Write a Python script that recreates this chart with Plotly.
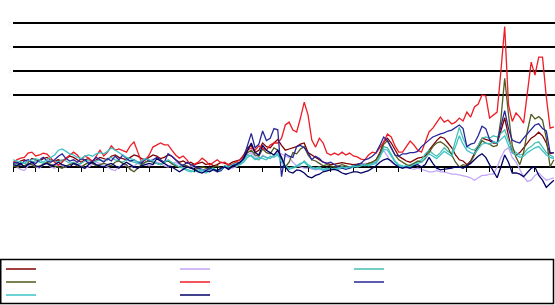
import plotly.graph_objects as go

# ---- data (144 monthly points) ----
periods = list(range(144))
tick_positions = list(range(0, 144, 6))
grid_values = [3, 4, 5, 6]

maroon = [0.2, 0.15, 0.25, 0.3, 0.2, 0.35, 0.3, 0.25, 0.35, 0.4, 0.3, 0.25,
          0.3, 0.25, 0.35, 0.45, 0.4, 0.3, 0.2, 0.3, 0.35, 0.25, 0.3, 0.4,
          0.35, 0.3, 0.45, 0.5, 0.4, 0.35, 0.3, 0.4, 0.5, 0.45, 0.35, 0.3,
          0.4, 0.5, 0.45, 0.35, 0.4, 0.5, 0.45, 0.3, 0.2, 0.25, 0.15, 0.2,
          0.1, 0.15, 0.2, 0.1, 0.15, 0.05, 0.1, 0.2, 0.15, 0.1, 0.2, 0.25,
          0.3, 0.5, 0.8, 0.9, 0.6, 0.7, 1.0, 0.85, 0.8, 1.0, 1.15, 0.9,
          0.7, 0.75, 0.8, 0.85, 0.95, 1.0, 0.6, 0.5, 0.4, 0.3, 0.2, 0.15,
          0.1, 0.12, 0.15, 0.18, 0.15, 0.12, 0.1, 0.12, 0.15, 0.1, 0.15, 0.2,
          0.3, 0.6, 1.05, 1.2, 1.0, 0.7, 0.45, 0.35, 0.25, 0.2, 0.3, 0.37,
          0.4, 0.45, 0.7, 0.9, 1.1, 1.25, 1.2, 1.0, 0.8, 0.5, 0.3, 0.25,
          0.1, 0.25, 0.55, 0.9, 1.2, 1.15, 1.1, 1.0, 1.0, 1.5, 2.05, 1.3,
          0.6, 0.5, 0.6, 0.8, 1.0, 1.2, 1.3, 1.45, 1.3, 1.0, 0.55, 0.6]

lavender = [0.2, 0.0, -0.1, -0.15, 0.05, 0.1, 0.0, -0.05, 0.1, 0.15, 0.0, -0.05,
            0.1, 0.05, 0.0, 0.1, 0.15, 0.2, 0.05, -0.05, 0.0, 0.1, 0.2, 0.15,
            0.05, 0.0, -0.1, -0.15, 0.0, 0.1, 0.05, -0.05, 0.05, 0.15, 0.2, 0.1,
            0.05, 0.1, 0.2, 0.15, 0.05, 0.0, 0.1, 0.2, 0.1, -0.05, 0.0, 0.05,
            -0.05, -0.1, -0.15, -0.1, -0.05, -0.15, -0.2, -0.1, 0.0, -0.1, -0.05, 0.0,
            0.1, 0.25, 0.5, 0.6, 0.45, 0.3, 0.5, 0.4, 0.35, 0.5, 0.6, 0.55,
            0.45, 0.4, 0.2, 0.05, 0.0, -0.05, -0.05, -0.1, -0.12, -0.1, -0.12, -0.1,
            -0.12, -0.08, -0.05, 0.0, -0.05, 0.0, 0.05, 0.05, 0.1, 0.15, 0.15, 0.2,
            0.25, 0.5, 0.7, 0.45, 0.2, 0.1, 0.05, 0.0, -0.05, -0.05, -0.1, -0.05,
            -0.1, -0.15, -0.2, -0.2, -0.15, -0.2, -0.2, -0.25, -0.3, -0.3, -0.33, -0.35,
            -0.4, -0.45, -0.55, -0.45, -0.35, -0.35, -0.3, -0.3, 0.0, 0.4, 0.7, 0.8,
            0.4, 0.2, -0.1, -0.4, -0.6, -0.55, -0.35, -0.25, -0.4, -0.55, -0.5, -0.45]

turquoise = [0.15, 0.1, 0.2, 0.15, 0.1, 0.2, 0.25, 0.2, 0.15, 0.2, 0.3, 0.25,
             0.2, 0.3, 0.25, 0.15, 0.2, 0.1, 0.15, 0.25, 0.3, 0.2, 0.25, 0.3,
             0.25, 0.35, 0.4, 0.3, 0.25, 0.2, 0.3, 0.25, 0.2, 0.15, 0.1, 0.2,
             0.25, 0.2, 0.15, 0.1, 0.2, 0.25, 0.15, 0.05, 0.0, -0.05, -0.1, -0.15,
             -0.2, -0.1, -0.2, -0.25, -0.15, -0.1, -0.2, -0.1, 0.0, 0.05, 0.1, 0.05,
             0.1, 0.2, 0.4, 0.5, 0.35, 0.3, 0.45, 0.4, 0.35, 0.5, 0.55, 0.3,
             0.0, -0.1, -0.05, 0.0, 0.1, 0.25, 0.1, 0.0, -0.05, 0.0, -0.1, -0.05,
             -0.1, -0.05, -0.1, -0.05, 0.0, -0.05, 0.0, 0.05, 0.1, 0.05, 0.1, 0.15,
             0.2, 0.5, 0.85, 0.8, 0.5, 0.25, 0.1, 0.05, 0.0, 0.1, 0.15, 0.2,
             0.3, 0.55, 0.7, 0.55, 0.45, 0.6, 0.8, 0.65, 0.55, 1.1, 1.65, 1.2,
             0.85, 0.75, 0.7, 0.9, 1.2, 1.25, 1.2, 1.3, 1.25, 1.4, 1.55, 1.1,
             0.75, 0.6, 0.5, 0.55, 0.75, 0.85, 1.0, 1.05, 0.8, 0.6, 0.5, 0.4]

olive = [0.05, 0.0, 0.1, 0.05, 0.15, 0.1, 0.0, 0.05, 0.1, 0.2, 0.1, 0.05,
         0.0, -0.05, 0.05, 0.1, 0.15, 0.05, 0.0, 0.1, 0.2, 0.15, 0.05, 0.1,
         0.15, 0.1, 0.05, 0.2, 0.25, 0.15, 0.1, -0.1, -0.2, -0.05, 0.1, 0.2,
         0.25, 0.2, 0.15, 0.1, 0.2, 0.25, 0.15, 0.05, 0.0, 0.1, 0.05, -0.05,
         -0.1, -0.05, 0.0, -0.05, -0.1, 0.0, 0.05, -0.05, 0.0, 0.05, 0.1, 0.15,
         0.2, 0.35, 0.6, 0.7, 0.5, 0.45, 0.75, 0.6, 0.55, 0.8, 0.7, 0.4,
         0.0, 0.2, 0.6, 0.55, 0.75, 0.85, 0.5, 0.3, 0.25, 0.15, 0.05, 0.1,
         0.05, 0.0, 0.05, 0.1, 0.05, 0.0, 0.05, 0.1, 0.05, 0.1, 0.15, 0.2,
         0.3, 0.55, 0.95, 1.1, 0.8, 0.5, 0.3, 0.2, 0.1, 0.05, 0.15, 0.25,
         0.2, 0.35, 0.6, 0.85, 1.0, 1.05, 0.95, 0.8, 0.5, 0.2, 0.0, 0.1,
         0.05, 0.2, 0.5, 0.8, 1.1, 1.0, 0.95, 0.85, 0.9, 2.0, 3.7, 2.2,
         0.9, 0.4, 0.1, 0.6, 1.5, 2.2, 2.0, 2.1, 1.95, 1.2, 0.0, 0.3]

red = [0.17, 0.3, 0.37, 0.4, 0.58, 0.62, 0.46, 0.5, 0.58, 0.54, 0.37, 0.2,
       0.08, 0.2, 0.37, 0.5, 0.62, 0.5, 0.3, 0.46, 0.37, 0.2, 0.46, 0.7,
       0.46, 0.62, 0.88, 0.7, 0.75, 0.7, 0.62, 0.88, 1.04, 0.62, 0.2, 0.3,
       0.5, 0.83, 0.92, 1.0, 0.92, 0.92, 0.7, 0.5, 0.37, 0.46, 0.3, 0.08,
       0.12, 0.2, 0.37, 0.25, 0.08, 0.2, 0.3, 0.17, 0.2, 0.08, 0.12, 0.2,
       0.3, 0.46, 0.7, 0.79, 0.7, 0.88, 0.79, 0.7, 0.92, 1.0, 1.0, 1.2,
       1.75, 1.87, 1.54, 1.46, 2.04, 2.7, 2.17, 1.12, 0.83, 1.2, 1.0, 0.58,
       0.5, 0.58, 0.5, 0.62, 0.5, 0.58, 0.46, 0.42, 0.33, 0.3, 0.5, 0.62,
       0.58, 0.79, 1.04, 1.37, 1.25, 0.88, 0.62, 0.62, 0.88, 1.08, 0.92, 0.7,
       0.62, 1.0, 1.46, 1.62, 1.87, 2.08, 1.87, 1.96, 1.79, 1.87, 2.04, 1.92,
       2.29, 2.08, 2.5, 2.62, 3.0, 2.96, 2.04, 2.17, 2.29, 4.0, 5.85, 2.6,
       1.9, 2.25, 2.08, 1.83, 3.0, 4.37, 3.83, 4.58, 4.58, 2.92, 1.62, 1.67]

blue = [0.15, 0.2, 0.1, 0.25, 0.3, 0.2, 0.15, 0.3, 0.4, 0.25, 0.2, 0.3,
        0.45, 0.55, 0.35, 0.25, 0.3, 0.2, 0.35, 0.3, 0.15, 0.25, 0.4, 0.3,
        0.2, 0.35, 0.25, 0.45, 0.3, 0.5, 0.35, 0.25, 0.3, 0.2, 0.15, 0.35,
        0.25, 0.3, 0.4, 0.3, 0.2, 0.55, 0.45, 0.3, 0.15, 0.05, 0.2, 0.1,
        0.05, -0.05, -0.1, -0.15, -0.05, -0.1, -0.2, -0.15, 0.05, -0.1, 0.05, 0.1,
        0.15, 0.4, 0.9, 1.4, 0.8, 0.95, 1.5, 1.1, 1.2, 1.6, 1.55, -0.4,
        0.55, 0.45, 0.4, 0.85, 0.9, 0.8, 0.6, 0.3, 0.45, 0.35, 0.2, 0.15,
        0.2, 0.1, 0.0, -0.05, -0.1, -0.05, 0.05, 0.1, 0.15, 0.3, 0.35, 0.45,
        0.6, 0.9, 1.25, 1.1, 0.8, 0.5, 0.45, 0.55, 0.55, 0.6, 0.6, 0.65,
        0.85, 1.0, 1.12, 1.25, 1.33, 1.38, 1.42, 1.5, 1.54, 1.65, 1.75, 1.6,
        0.85, 0.95, 1.0, 1.3, 1.7, 1.6, 1.15, 1.05, 1.0, 1.7, 2.35, 1.6,
        1.12, 1.05, 1.0, 1.2, 1.4, 1.6, 1.75, 1.8, 1.6, 1.5, 0.6, 0.6]

teal = [0.3, 0.25, 0.2, 0.15, 0.25, 0.3, 0.35, 0.3, 0.2, 0.3, 0.4, 0.5,
        0.7, 0.75, 0.65, 0.55, 0.5, 0.4, 0.35, 0.45, 0.5, 0.45, 0.55, 0.6,
        0.55, 0.65, 0.8, 0.7, 0.6, 0.5, 0.4, 0.35, 0.3, 0.2, 0.25, 0.35,
        0.3, 0.25, 0.15, 0.1, 0.2, 0.3, 0.2, 0.1, 0.0, -0.05, -0.15, -0.2,
        -0.15, -0.2, -0.1, -0.2, -0.15, -0.05, -0.15, -0.1, 0.05, 0.0, 0.1, 0.15,
        0.1, 0.3, 0.5, 0.45, 0.3, 0.4, 0.35, 0.3, 0.45, 0.4, 0.5, 0.2,
        0.05, -0.05, 0.0, 0.05, 0.15, 0.2, 0.05, -0.05, -0.1, -0.05, -0.15, -0.1,
        -0.05, -0.1, -0.05, 0.0, -0.05, 0.0, 0.05, 0.0, 0.05, 0.1, 0.05, 0.1,
        0.15, 0.4, 0.75, 0.7, 0.45, 0.2, 0.05, 0.0, 0.05, 0.0, 0.1, 0.15,
        0.2, 0.4, 0.55, 0.45, 0.35, 0.5, 0.65, 0.55, 0.45, 0.85, 1.3, 0.95,
        0.7, 0.6, 0.55, 0.75, 0.95, 1.0, 0.95, 1.05, 1.0, 1.15, 1.3, 0.9,
        0.6, 0.5, 0.4, 0.45, 0.6, 0.7, 0.8, 0.85, 0.65, 0.5, 0.4, 0.35]

navy = [0.1, 0.05, 0.15, 0.0, 0.1, 0.2, 0.05, 0.0, 0.1, 0.15, 0.05, 0.1,
        0.2, 0.1, 0.05, 0.0, 0.15, 0.1, 0.0, -0.05, 0.1, 0.2, 0.1, 0.05,
        0.0, 0.1, 0.15, 0.05, -0.05, 0.1, 0.2, 0.1, 0.0, -0.05, 0.05, 0.1,
        0.15, 0.1, 0.35, 0.25, 0.15, 0.05, 0.0, -0.1, -0.2, -0.1, 0.0, -0.05,
        -0.1, -0.2, -0.25, -0.15, -0.2, -0.1, -0.15, -0.05, 0.0, -0.1, 0.05, 0.1,
        0.2, 0.35, 0.7, 1.0, 0.6, 0.5, 0.9, 0.7, 0.6, 0.5, 0.7, 0.4,
        0.0, -0.2, -0.25, -0.12, -0.15, -0.25, -0.4, -0.45, -0.35, -0.3, -0.2, -0.15,
        -0.12, -0.1, -0.15, -0.25, -0.3, -0.25, -0.2, -0.2, -0.25, -0.2, -0.15, -0.05,
        0.05, 0.2, 0.3, 0.35, 0.25, 0.1, 0.0, -0.05, 0.0, -0.05, 0.05, 0.1,
        0.0, 0.1, 0.4, 0.15, -0.05, -0.12, -0.1, -0.05, -0.05, 0.0, 0.0, -0.05,
        0.05, 0.15, 0.3, 0.45, 0.55, 0.4, 0.1, -0.2, -0.45, 0.0, 0.5, 0.2,
        -0.25, -0.25, -0.3, -0.4, -0.2, -0.05, 0.0, -0.35, -0.55, -0.85, -0.7, -0.55]

series = [
    ("Series 1", maroon, "#800000", "legend"),
    ("Series 2", lavender, "#C3A6F5", "legend"),
    ("Series 3", turquoise, "#45BFB3", "legend"),
    ("Series 4", olive, "#4F5A1E", "legend2"),
    ("Series 5", red, "#EE1C25", "legend2"),
    ("Series 6", blue, "#26269A", "legend2"),
    ("Series 7", teal, "#3CC3C8", "legend3"),
    ("Series 8", navy, "#000066", "legend3"),
]

W, H = 555, 305
PLOT_LEFT = 13
zero_px = 167
unit_px = 24.0

fig = go.Figure()
for name, vals, col, lg in series:
    fig.add_trace(go.Scatter(x=periods, y=vals, mode="lines", name=name,
                             line=dict(color=col, width=1.3), legend=lg))

y_top = zero_px / unit_px
y_bot = -(H - zero_px) / unit_px


def px_x(px):
    return px / W


def px_y(py):
    return (H - py) / H


fig.update_layout(
    width=W, height=H,
    margin=dict(l=0, r=0, t=0, b=0, autoexpand=False),
    paper_bgcolor="white", plot_bgcolor="white",
    xaxis=dict(domain=[px_x(PLOT_LEFT), 1], range=[0, 143.3],
               anchor="free", position=px_y(zero_px),
               tickvals=tick_positions, ticks="outside", ticklen=4,
               tickwidth=1, tickcolor="black", showgrid=False,
               zeroline=False, showline=False, showticklabels=False),
    yaxis=dict(domain=[0, 1], range=[y_bot, y_top], tickvals=grid_values,
               showgrid=True, gridcolor="black", gridwidth=1.5,
               zeroline=True, zerolinecolor="black", zerolinewidth=2,
               tickfont=dict(size=8, color="#f2f2f2"), ticks=""),
    showlegend=True,
)

leg_common = dict(orientation="h", xanchor="left", yanchor="middle",
                  x=px_x(1), bgcolor="rgba(0,0,0,0)",
                  borderwidth=0, entrywidth=129, entrywidthmode="pixels",
                  font=dict(size=8, color="white"), itemwidth=30)
fig.update_layout(
    legend=dict(leg_common, y=px_y(269)),
    legend2=dict(leg_common, y=px_y(282)),
    legend3=dict(leg_common, y=px_y(295)),
)

fig.add_shape(type="rect", xref="paper", yref="paper",
              x0=px_x(0.75), x1=px_x(553.5),
              y0=px_y(303.5), y1=px_y(259.5),
              line=dict(color="black", width=1.5))

fig.write_html("out.html")
